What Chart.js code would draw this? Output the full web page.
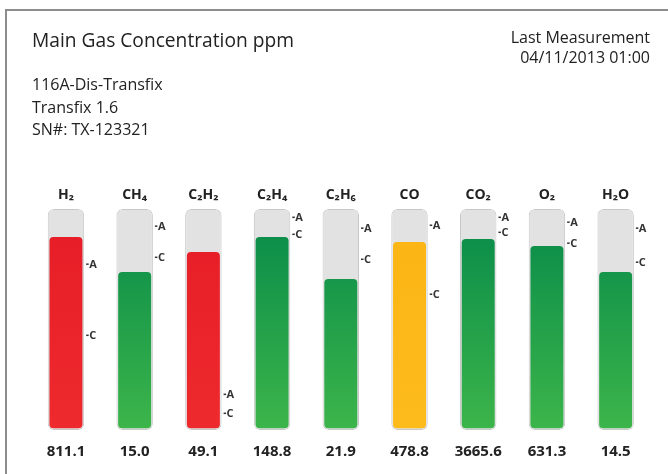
<!DOCTYPE html>
<html>
<head>
<meta charset="utf-8">
<script src="https://cdn.jsdelivr.net/npm/chart.js@4/dist/chart.umd.min.js"></script>
<style>
  body { margin: 0; width: 668px; height: 474px; background: #fff; overflow: hidden;
         font-family: "Open Sans", "Noto Sans", sans-serif; color: #222; }
  #frame { position: absolute; left: 5px; top: 9px; right: 0; bottom: 0;
           border-top: 2px solid #8c8c8c; border-left: 2px solid #8c8c8c; }
  #chart { position: absolute; left: 0; top: 0; }
  .txt { position: absolute; white-space: nowrap; }
  #title { left: 32px; top: 29px; font-size: 19.2px; line-height: 22px; }
  #device { left: 32px; top: 73px; font-size: 16px; line-height: 22.5px; }
  #last { right: 18px; top: 27px; font-size: 16px; line-height: 20px; text-align: right; }
</style>
</head>
<body>
<div id="frame"></div>
<canvas id="chart" width="668" height="474"></canvas>
<div class="txt" id="title">Main Gas Concentration ppm</div>
<div class="txt" id="device">116A-Dis-Transfix<br>Transfix 1.6<br>SN#: TX-123321</div>
<div class="txt" id="last">Last Measurement<br>04/11/2013 01:00</div>

<script>
// --- DATA ---
const gases = ["H₂", "CH₄", "C₂H₂", "C₂H₄", "C₂H₆", "CO", "CO₂", "O₂", "H₂O"];
const readings = ["811.1", "15.0", "49.1", "148.8", "21.9", "478.8", "3665.6", "631.3", "14.5"];
// fill height of each tube, % of tube height
const fillLevels = [87.3, 71.5, 80.5, 87.3, 68.3, 85.1, 86.4, 83.3, 71.5];
// alarm (A) and caution (C) marks, % of tube height
const alarmLevels = [74.7, 91.9, 15.8, 95.9, 91.0, 92.3, 95.9, 93.7, 91.0];
const cautionLevels = [42.5, 77.8, 7.2, 88.2, 76.9, 61.1, 89.1, 84.2, 75.6];

const palette = {
    red: ["#e61c26", "#ee2a2e"],
    amber: ["#fbb514", "#fdbb1c"],
    green: ["#06894a", "#3cb54a"]
};

function status(i) {
    if (fillLevels[i] >= alarmLevels[i]) return "red";
    if (fillLevels[i] >= cautionLevels[i]) return "amber";
    return "green";
}

function fillColor(ctx) {
    const area = ctx.chart.chartArea;
    if (!area) return "#888";
    const [top, bottom] = palette[status(ctx.dataIndex)];
    const g = ctx.chart.ctx.createLinearGradient(0, area.top, 0, area.bottom);
    g.addColorStop(0, top);
    g.addColorStop(1, bottom);
    return g;
}

// --- A / C MARKERS ---
const markerPlugin = {
    id: "markers",
    afterDatasetsDraw(chart) {
        const { ctx, scales: { y } } = chart;
        const tubes = chart.getDatasetMeta(0).data;
        ctx.save();
        ctx.font = 'bold 11px "Open Sans"';
        ctx.fillStyle = "#333";
        ctx.textBaseline = "middle";
        tubes.forEach((bar, i) => {
            const x = bar.x + bar.width / 2 + 2;
            [[alarmLevels[i], "A"], [cautionLevels[i], "C"]].forEach(([lv, t]) => {
                const py = y.getPixelForValue(lv);
                ctx.fillRect(x, py - 1.5, 2.5, 1.5);
                ctx.fillText(t, x + 3, py);
            });
        });
        ctx.restore();
    }
};

// --- CHART ---
new Chart(document.getElementById("chart"), {
    type: "bar",
    data: {
        labels: gases,
        datasets: [
            {
                label: "tube",
                data: gases.map(() => 100),
                backgroundColor: "#e2e2e2",
                borderColor: "#c8c8c8",
                borderWidth: 1,
                borderRadius: 6,
                borderSkipped: false,
                barPercentage: 0.53,
                categoryPercentage: 1,
                grouped: false,
                order: 1
            },
            {
                label: "level",
                data: fillLevels.map(v => [0.8, v]),
                backgroundColor: fillColor,
                borderRadius: 4,
                borderSkipped: false,
                barPercentage: 0.48,
                categoryPercentage: 1,
                grouped: false,
                order: 0
            }
        ]
    },
    options: {
        responsive: false,
        animation: false,
        layout: { padding: { left: 31.6, right: 18, top: 169, bottom: 4 } },
        plugins: { legend: { display: false }, tooltip: { enabled: false } },
        scales: {
            x: {
                position: "top",
                grid: { display: false, drawTicks: false },
                border: { display: false },
                ticks: { color: "#222", padding: 6, font: { family: "Open Sans", size: 14, weight: "bold" } },
                afterFit: axis => { axis.height = 40; }
            },
            x2: {
                type: "category",
                position: "bottom",
                labels: readings,
                grid: { display: false, drawTicks: false },
                border: { display: false },
                ticks: { color: "#222", padding: 12.5, font: { family: "Open Sans", size: 15, weight: "bold" } },
                afterFit: axis => { axis.height = 40; }
            },
            y: { display: false, min: 0, max: 100 }
        }
    },
    plugins: [markerPlugin]
});
</script>
</body>
</html>
